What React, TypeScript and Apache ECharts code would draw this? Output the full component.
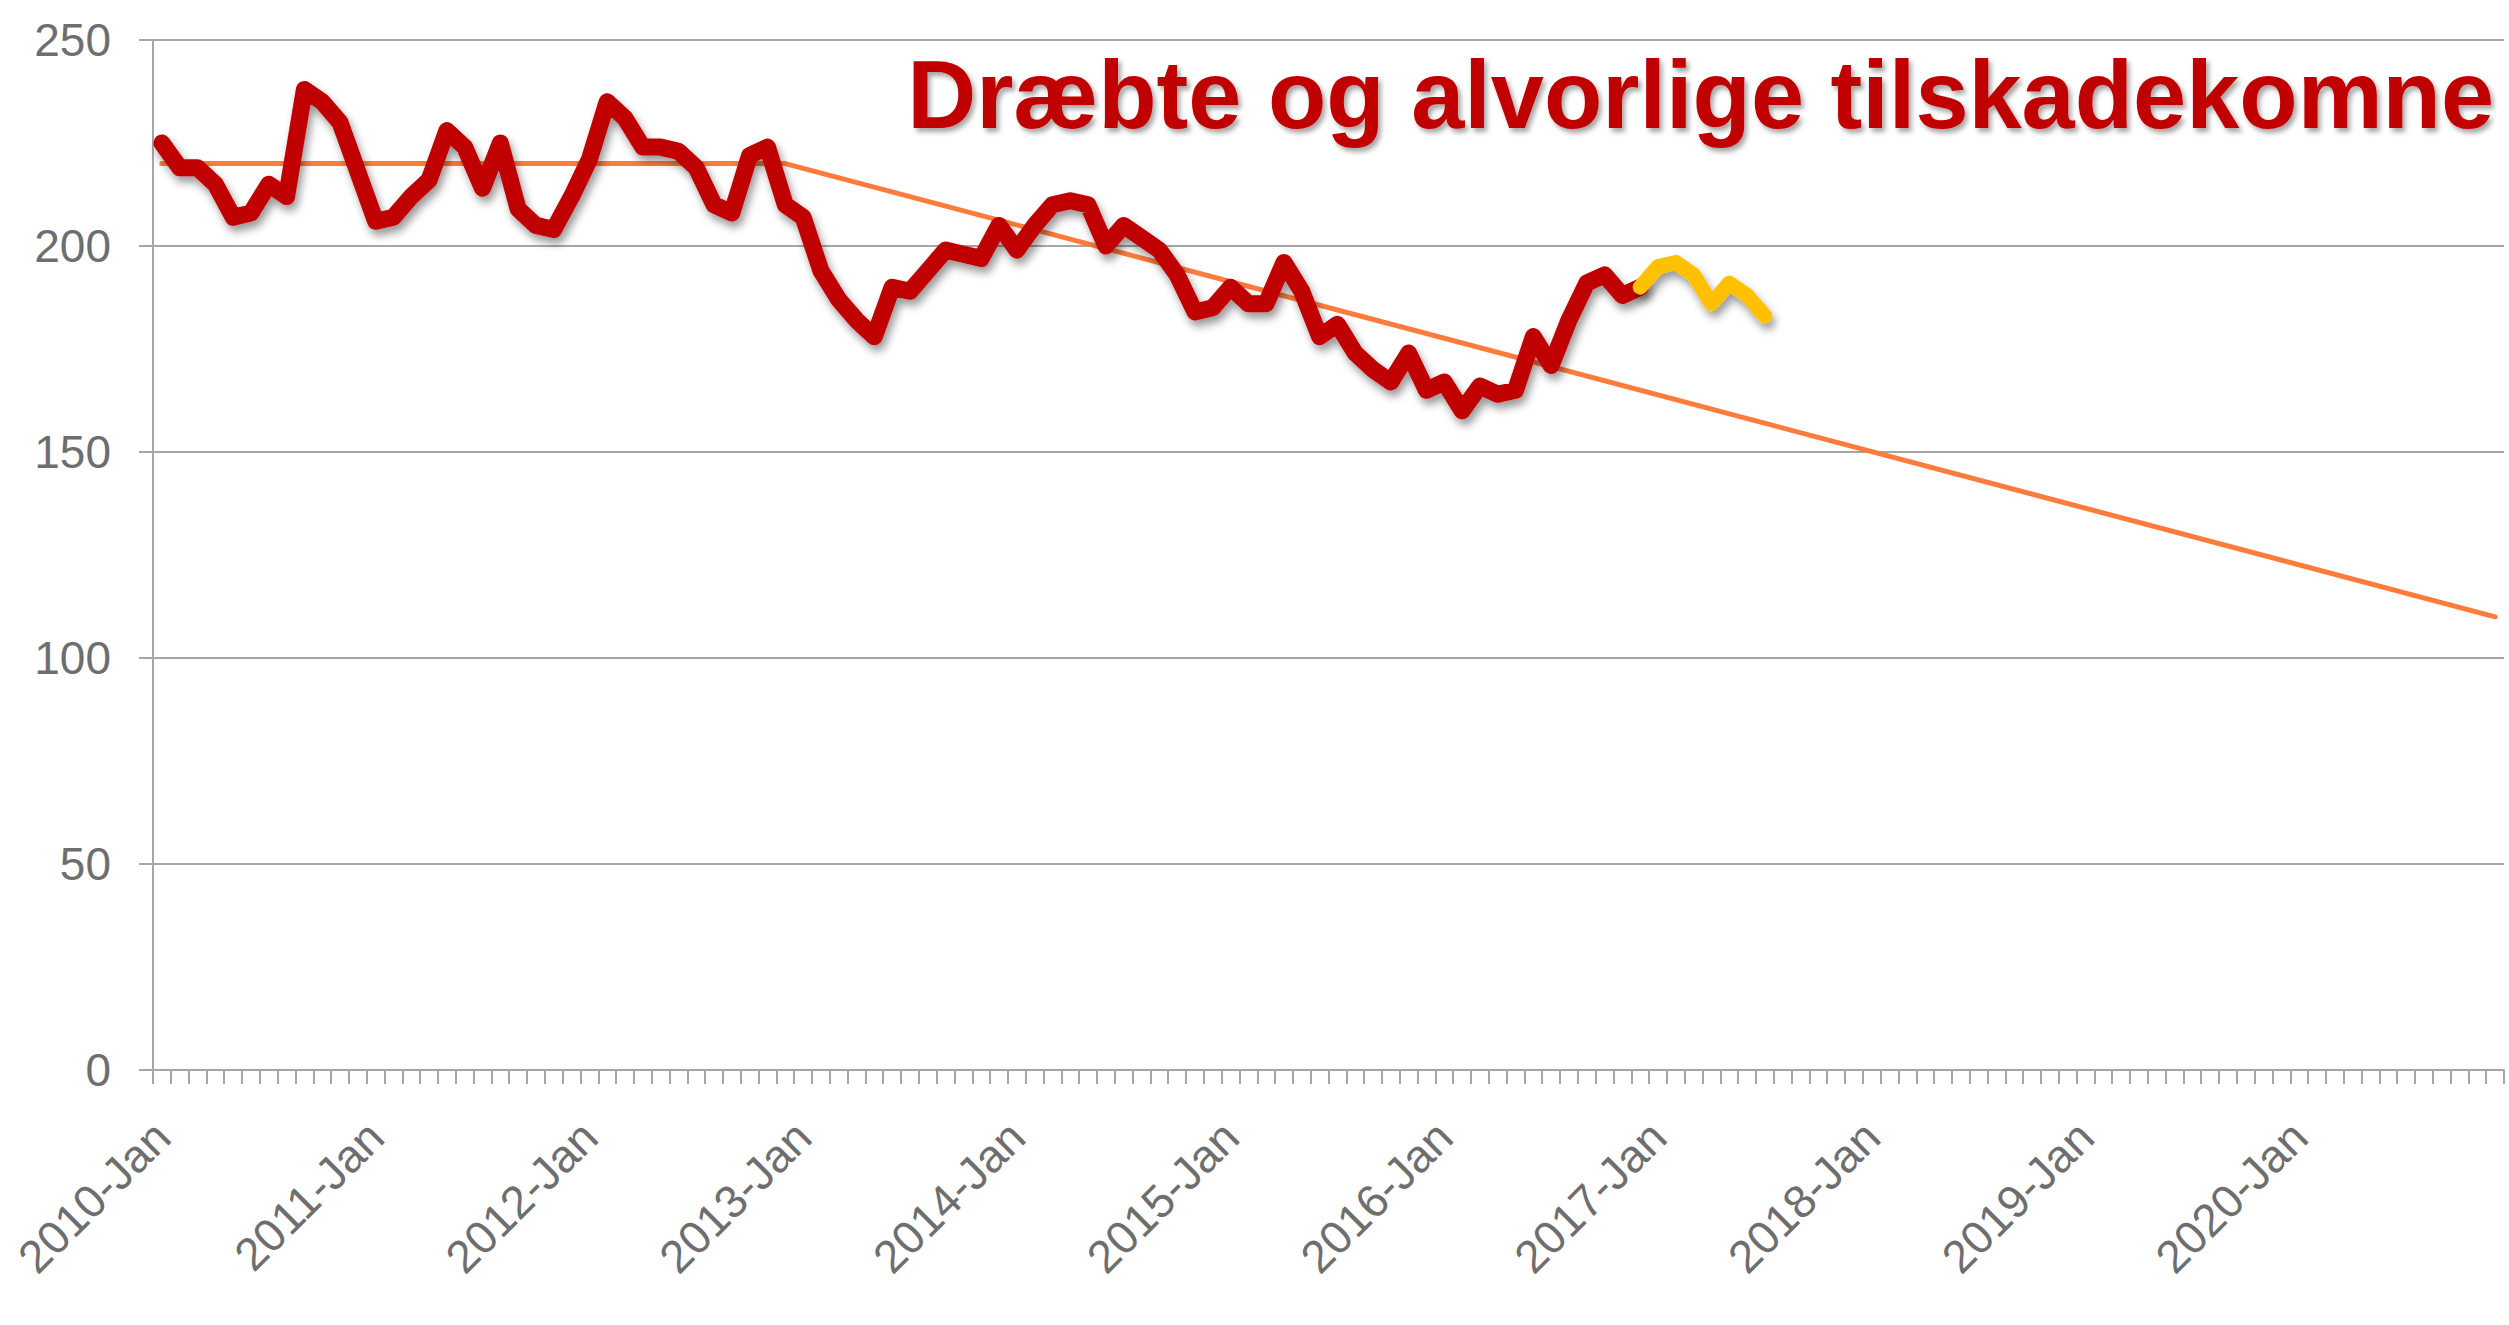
import React, { useEffect, useRef } from "react";
import * as echarts from "echarts";

const years = [2010, 2011, 2012, 2013, 2014, 2015, 2016, 2017, 2018, 2019, 2020];
const monthNames = ["Jan", "Feb", "Mar", "Apr", "May", "Jun", "Jul", "Aug", "Sep", "Oct", "Nov", "Dec"];
const categories: string[] = [];
years.forEach((y) => monthNames.forEach((m) => categories.push(`${y}-${m}`)));

// Dræbte og alvorlige tilskadekomne, 2010-Jan .. 2016-Dec
const redValues = [
  225, 219, 219, 215, 207, 208, 215, 212, 238, 235, 230, 218,
  206, 207, 212, 216, 228, 224, 214, 225, 209, 205, 204, 212,
  221, 235, 231, 224, 224, 223, 219, 210, 208, 222, 224, 210,
  207, 194, 187, 182, 178, 190, 189, 194, 199, 198, 197, 205,
  199, 205, 210, 211, 210, 200, 205, 202, 199, 193, 184, 185,
  190, 186, 186, 196, 189, 178, 181, 174, 170, 167, 174, 165,
  167, 160, 166, 164, 165, 178, 171, 182, 191, 193, 188, 190,
];

// Foreløbige tal 2016-Dec .. 2017-Jul
const yellowCategories = ["2016-Dec", "2017-Jan", "2017-Feb", "2017-Mar", "2017-Apr", "2017-May", "2017-Jun", "2017-Jul"];
const yellowValues = [190, 195, 196, 193, 186, 191, 188, 183];

// Målsætning / trend
const trendCategories = ["2010-Jan", "2012-Dec", "2020-Dec"];
const trendValues = [220, 220, 110];

const yTicks = { min: 0, max: 250, interval: 50 };
const titleText = "Dræbte og alvorlige tilskadekomne";

export default function App() {
  const ref = useRef<HTMLDivElement>(null);
  useEffect(() => {
    if (!ref.current) return;
    const chart = echarts.init(ref.current, null, { renderer: "svg" });
    const font = "'Liberation Sans', Arial, sans-serif";
    const shadow = {
      shadowColor: "rgba(0,0,0,0.4)",
      shadowBlur: 8,
      shadowOffsetX: 3,
      shadowOffsetY: 6,
    };
    chart.setOption({
      animation: false,
      backgroundColor: "#ffffff",
      grid: { left: 153, right: 5, top: 40, bottom: 255, containLabel: false },
      xAxis: {
        type: "category",
        data: categories,
        boundaryGap: true,
        axisLine: { show: true, lineStyle: { color: "#a6a6a6", width: 2 } },
        axisTick: { show: true, interval: 0, length: 14, lineStyle: { color: "#a6a6a6", width: 2 } },
        axisLabel: {
          interval: 11,
          rotate: 45,
          margin: 59,
          fontSize: 46,
          color: "#6e6e6e",
          fontFamily: font,
        },
        splitLine: { show: false },
      },
      yAxis: {
        type: "value",
        min: yTicks.min,
        max: yTicks.max,
        interval: yTicks.interval,
        axisLine: { show: true, lineStyle: { color: "#a6a6a6", width: 2 } },
        axisTick: { show: true, length: 14, lineStyle: { color: "#a6a6a6", width: 2 } },
        axisLabel: { fontSize: 46, color: "#6e6e6e", fontFamily: font, margin: 42 },
        splitLine: { show: true, lineStyle: { color: "#a6a6a6", width: 2 } },
      },
      series: [
        {
          type: "line",
          name: "Trend",
          data: trendCategories.map((c, i) => [c, trendValues[i]]),
          symbol: "none",
          lineStyle: { color: "#ff7b3c", width: 5, cap: "round", join: "round" },
          z: 2,
        },
        {
          type: "line",
          name: "Dræbte og alvorlige tilskadekomne",
          data: redValues,
          symbol: "none",
          lineStyle: { color: "#c00000", width: 17, cap: "round", join: "round", ...shadow },
          z: 3,
        },
        {
          type: "line",
          name: "Foreløbig",
          data: yellowCategories.map((c, i) => [c, yellowValues[i]]),
          symbol: "none",
          lineStyle: { color: "#ffc000", width: 15, cap: "round", join: "round", ...shadow },
          z: 4,
        },
      ],
      graphic: [
        {
          type: "text",
          x: 2494,
          y: 95,
          z: 10,
          style: {
            text: titleText,
            fontSize: 95.5,
            fontWeight: "bold",
            fontFamily: font,
            fill: "#c00000",
            align: "right",
            verticalAlign: "middle",
            textShadowColor: "rgba(0,0,0,0.35)",
            textShadowBlur: 5,
            textShadowOffsetX: 3,
            textShadowOffsetY: 4,
          },
        },
      ],
    });
    return () => chart.dispose();
  }, []);
  return (
    <div
      ref={ref}
      style={{ position: "absolute", left: 0, top: 0, width: 2509, height: 1325 }}
    />
  );
}
